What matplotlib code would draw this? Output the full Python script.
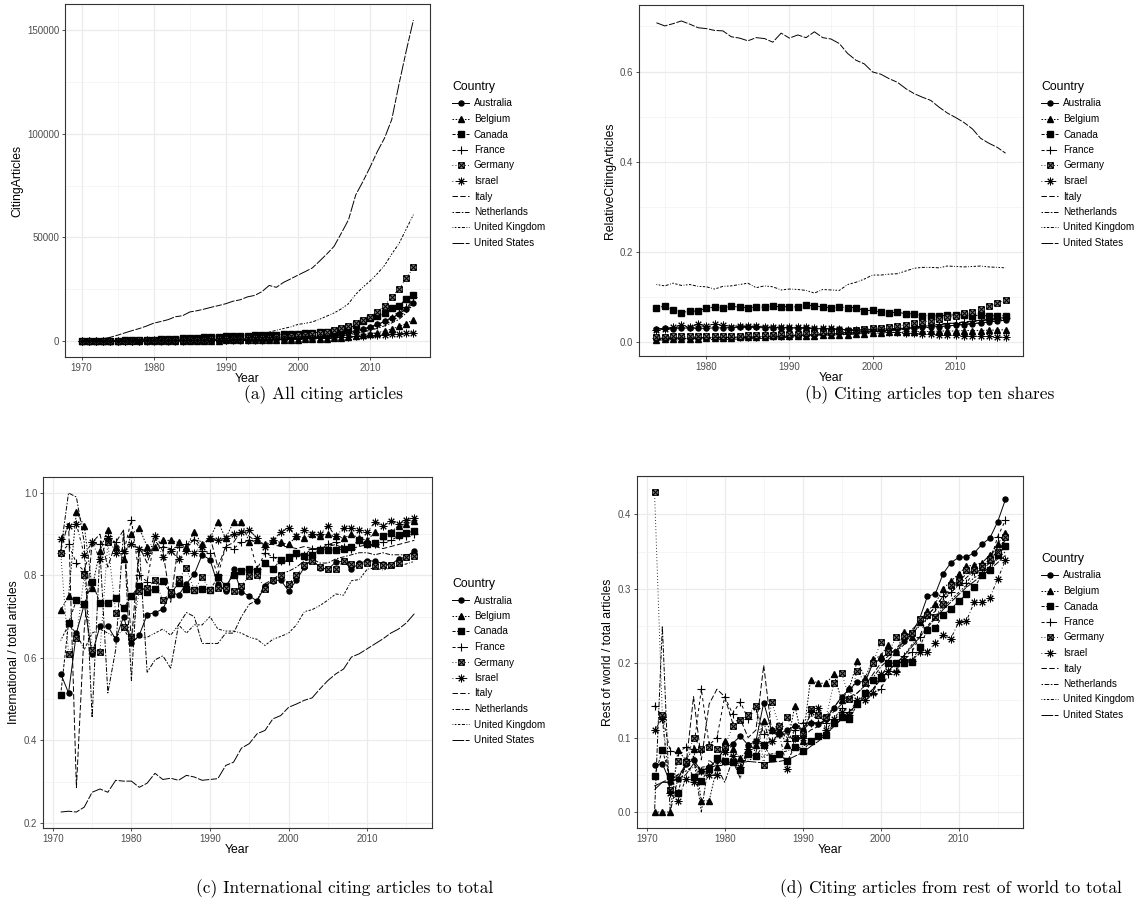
import matplotlib
matplotlib.use("Agg")
import matplotlib.pyplot as plt
from matplotlib.lines import Line2D
from matplotlib.path import Path

countries = ["Australia", "Belgium", "Canada", "France", "Germany", "Israel",
             "Italy", "Netherlands", "United Kingdom", "United States"]

# ---------- (a) citing articles, 1970-2016 ----------
years_a = list(range(1970, 2017))
a_australia = [10, 20, 40, 60, 90, 120, 170, 220, 260, 320,
               370, 410, 460, 520, 560, 640, 680, 720, 770, 820,
               870, 960, 1000, 1050, 1100, 1200, 1300, 1350, 1450, 1600,
               1800, 1950, 2100, 2400, 2700, 3100, 3600, 4200, 5000, 5900,
               6800, 8000, 9400, 11000, 13000, 15500, 18500]
a_belgium = [3, 6, 10, 15, 20, 28, 36, 45, 55, 65,
             80, 90, 100, 115, 130, 145, 160, 175, 195, 215,
             240, 265, 290, 320, 350, 390, 430, 480, 540, 610,
             700, 790, 880, 1000, 1150, 1300, 1550, 1850, 2250, 2700,
             3300, 4000, 4800, 5800, 7000, 8400, 10300]
a_canada = [20, 40, 70, 110, 160, 220, 280, 350, 430, 530,
            650, 750, 900, 1050, 1250, 1500, 1600, 1750, 1900, 2100,
            2300, 2400, 2500, 2600, 2700, 2800, 2900, 3000, 3150, 3300,
            3500, 3700, 3900, 4200, 4500, 5000, 5500, 6200, 7600, 9500,
            11000, 12000, 13300, 15700, 16800, 20500, 22200]
a_france = [5, 10, 15, 25, 30, 45, 60, 75, 90, 110,
            130, 150, 170, 190, 210, 240, 270, 300, 330, 360,
            400, 450, 500, 560, 620, 700, 780, 870, 980, 1100,
            1300, 1450, 1650, 1900, 2200, 2600, 3100, 3700, 4500, 5400,
            6500, 7800, 9300, 11200, 13500, 16500, 21000]
a_germany = [10, 20, 35, 55, 80, 110, 150, 190, 230, 270,
             320, 360, 400, 450, 500, 560, 620, 680, 750, 820,
             900, 980, 1100, 1200, 1350, 1500, 1650, 1850, 2100, 2400,
             2800, 3100, 3400, 3900, 4500, 5300, 6200, 7200, 8500, 10000,
             11500, 14100, 17000, 21400, 25000, 30300, 35500]
a_israel = [5, 10, 20, 35, 60, 90, 130, 170, 220, 280,
            380, 400, 430, 460, 500, 530, 560, 580, 620, 650,
            680, 720, 750, 780, 820, 860, 900, 950, 1000, 1080,
            1150, 1250, 1350, 1450, 1550, 1700, 1900, 2100, 2300, 2500,
            2700, 2900, 3100, 3300, 3500, 3700, 4000]
a_italy = [3, 6, 10, 15, 20, 28, 36, 45, 55, 65,
           75, 90, 105, 120, 140, 160, 180, 200, 230, 260,
           300, 340, 390, 440, 500, 570, 650, 750, 860, 1000,
           1150, 1350, 1550, 1800, 2100, 2450, 2900, 3400, 4100, 4900,
           5900, 7100, 8600, 10400, 12700, 15800, 20000]
a_netherlands = [5, 10, 18, 28, 40, 55, 70, 85, 100, 115,
                 130, 145, 160, 180, 200, 220, 245, 270, 300, 330,
                 360, 400, 440, 490, 540, 600, 670, 750, 840, 950,
                 1100, 1250, 1400, 1600, 1850, 2150, 2550, 3000, 3600, 4300,
                 5100, 6100, 7300, 8700, 10400, 13500, 18000]
a_uk = [30, 60, 100, 160, 250, 380, 520, 700, 850, 1000,
        1150, 1300, 1450, 1650, 1800, 2000, 2100, 2250, 2400, 2450,
        2600, 2700, 2850, 2950, 3300, 3600, 4200, 5200, 6000, 6800,
        8000, 8500, 9200, 10500, 12000, 13500, 15500, 18000, 22500, 26000,
        29000, 32500, 36500, 42000, 47000, 54000, 61000]
a_us = [200, 400, 700, 1100, 1800, 2800, 3900, 5000, 6000, 7200,
        8600, 9400, 10300, 11700, 12200, 14000, 14600, 15400, 16300, 17100,
        18000, 19200, 19900, 21300, 22000, 23800, 26800, 25900, 28300, 30000,
        31800, 33500, 35300, 38600, 42000, 45700, 52000, 58500, 70500, 77000,
        84000, 91500, 98000, 107000, 124000, 140000, 155000]

# ---------- (b) shares, 1974-2016 ----------
years_b = list(range(1974, 2017))
b_australia = [0.030, 0.031, 0.030, 0.032, 0.031, 0.031,
               0.031, 0.032, 0.032, 0.032, 0.033, 0.033, 0.033, 0.032, 0.032, 0.032,
               0.032, 0.031, 0.031, 0.030, 0.030, 0.029, 0.029, 0.028, 0.028, 0.028,
               0.029, 0.029, 0.030, 0.031, 0.031, 0.032, 0.033, 0.034, 0.035, 0.036,
               0.038, 0.039, 0.041, 0.043, 0.045, 0.047, 0.049]
b_belgium = [0.006, 0.007, 0.007, 0.008, 0.008, 0.008,
             0.009, 0.009, 0.010, 0.010, 0.011, 0.011, 0.012, 0.012, 0.013, 0.013,
             0.014, 0.014, 0.015, 0.015, 0.016, 0.016, 0.017, 0.017, 0.018, 0.019,
             0.020, 0.021, 0.022, 0.022, 0.023, 0.023, 0.024, 0.024, 0.025, 0.025,
             0.025, 0.026, 0.026, 0.026, 0.027, 0.027, 0.028]
b_canada = [0.077, 0.080, 0.072, 0.066, 0.069, 0.069,
            0.076, 0.078, 0.077, 0.080, 0.078, 0.077, 0.078, 0.078, 0.080, 0.079,
            0.079, 0.078, 0.082, 0.081, 0.078, 0.077, 0.078, 0.077, 0.077, 0.070,
            0.071, 0.067, 0.065, 0.067, 0.063, 0.063, 0.059, 0.059, 0.058, 0.060,
            0.061, 0.060, 0.059, 0.060, 0.058, 0.059, 0.059]
b_france = [0.010, 0.010, 0.010, 0.010, 0.010, 0.010,
            0.011, 0.011, 0.011, 0.011, 0.011, 0.012, 0.012, 0.013, 0.013, 0.014,
            0.015, 0.016, 0.017, 0.018, 0.019, 0.020, 0.021, 0.022, 0.023, 0.024,
            0.026, 0.027, 0.028, 0.030, 0.032, 0.034, 0.036, 0.038, 0.040, 0.042,
            0.043, 0.045, 0.047, 0.049, 0.050, 0.052, 0.054]
b_germany = [0.012, 0.012, 0.013, 0.013, 0.013, 0.013,
             0.013, 0.013, 0.013, 0.014, 0.015, 0.016, 0.016, 0.017, 0.017, 0.018,
             0.018, 0.019, 0.021, 0.021, 0.022, 0.023, 0.024, 0.025, 0.027, 0.029,
             0.031, 0.032, 0.034, 0.036, 0.039, 0.042, 0.045, 0.048, 0.051, 0.055,
             0.059, 0.064, 0.068, 0.074, 0.080, 0.086, 0.093]
b_israel = [0.028, 0.030, 0.033, 0.038, 0.033, 0.040,
            0.036, 0.041, 0.038, 0.035, 0.037, 0.036, 0.036, 0.035, 0.034, 0.034,
            0.034, 0.033, 0.034, 0.032, 0.031, 0.031, 0.029, 0.028, 0.027, 0.026,
            0.025, 0.024, 0.023, 0.022, 0.021, 0.020, 0.019, 0.018, 0.017, 0.016,
            0.016, 0.015, 0.014, 0.013, 0.013, 0.012, 0.011]
b_italy = [0.005, 0.005, 0.005, 0.005, 0.005, 0.005,
           0.006, 0.006, 0.006, 0.007, 0.007, 0.008, 0.008, 0.009, 0.009, 0.010,
           0.011, 0.012, 0.013, 0.014, 0.015, 0.016, 0.017, 0.018, 0.019, 0.021,
           0.023, 0.025, 0.027, 0.029, 0.031, 0.033, 0.035, 0.037, 0.039, 0.041,
           0.043, 0.045, 0.047, 0.049, 0.051, 0.053, 0.055]
b_netherlands = [0.009, 0.009, 0.009, 0.009, 0.009, 0.010,
                 0.010, 0.010, 0.011, 0.011, 0.012, 0.012, 0.013, 0.013, 0.014, 0.014,
                 0.015, 0.016, 0.016, 0.017, 0.018, 0.019, 0.020, 0.020, 0.021, 0.022,
                 0.024, 0.025, 0.026, 0.027, 0.029, 0.030, 0.032, 0.033, 0.035, 0.036,
                 0.038, 0.040, 0.042, 0.043, 0.045, 0.047, 0.049]
b_uk = [0.128, 0.125, 0.131, 0.126, 0.128, 0.124,
        0.123, 0.118, 0.124, 0.125, 0.128, 0.131, 0.121, 0.125, 0.123, 0.116,
        0.118, 0.117, 0.115, 0.109, 0.117, 0.116, 0.115, 0.128, 0.133, 0.140,
        0.149, 0.149, 0.151, 0.152, 0.158, 0.164, 0.166, 0.166, 0.165, 0.169,
        0.168, 0.167, 0.168, 0.169, 0.167, 0.166, 0.165]
b_us = [0.708, 0.701, 0.706, 0.712, 0.705, 0.697,
        0.695, 0.691, 0.690, 0.677, 0.674, 0.668, 0.675, 0.673, 0.665, 0.685,
        0.674, 0.681, 0.675, 0.688, 0.675, 0.672, 0.662, 0.640, 0.625, 0.617,
        0.599, 0.594, 0.584, 0.576, 0.562, 0.551, 0.543, 0.536, 0.521, 0.508,
        0.498, 0.487, 0.473, 0.452, 0.441, 0.432, 0.419]

# ---------- (c) international / total, 1971-2016 ----------
years_cd = list(range(1971, 2017))
c_australia = [0.562, 0.515, 0.66, 0.73, 0.61, 0.677, 0.677, 0.645, 0.70,
               0.635, 0.655, 0.705, 0.71, 0.718, 0.76, 0.752, 0.78, 0.803, 0.85,
               0.838, 0.778, 0.762, 0.815, 0.76, 0.75, 0.738, 0.775, 0.787, 0.789,
               0.762, 0.788, 0.82, 0.84, 0.818, 0.815, 0.832, 0.835, 0.815, 0.83,
               0.835, 0.835, 0.828, 0.826, 0.84, 0.845, 0.86]
c_belgium = [0.715, 0.75, 0.955, 0.92, 0.77, 0.86, 0.91, 0.87, 0.84,
             0.90, 0.915, 0.87, 0.87, 0.885, 0.885, 0.88, 0.87, 0.905, 0.875,
             0.89, 0.93, 0.89, 0.93, 0.93, 0.88, 0.885, 0.875, 0.885, 0.88,
             0.875, 0.895, 0.89, 0.90, 0.895, 0.90, 0.895, 0.89, 0.90, 0.89,
             0.885, 0.905, 0.895, 0.905, 0.92, 0.925, 0.932]
c_canada = [0.51, 0.685, 0.74, 0.73, 0.785, 0.732, 0.733, 0.745, 0.72,
            0.75, 0.775, 0.76, 0.768, 0.787, 0.755, 0.782, 0.768, 0.765, 0.768,
            0.765, 0.795, 0.775, 0.80, 0.81, 0.815, 0.81, 0.83, 0.815, 0.838,
            0.845, 0.855, 0.848, 0.85, 0.862, 0.862, 0.862, 0.863, 0.868, 0.885,
            0.875, 0.878, 0.895, 0.903, 0.898, 0.903, 0.908]
c_france = [0.855, 0.875, 0.83, 0.81, 0.88, 0.875, 0.895, 0.88, 0.855,
            0.935, 0.80, 0.785, 0.895, 0.87, 0.865, 0.87, 0.875, 0.885, 0.86,
            0.855, 0.80, 0.87, 0.865, 0.88, 0.885, 0.815, 0.855, 0.845, 0.835,
            0.835, 0.85, 0.85, 0.865, 0.865, 0.875, 0.88, 0.87, 0.865, 0.88,
            0.875, 0.875, 0.88, 0.885, 0.895, 0.895, 0.90]
c_germany = [0.855, 0.61, 0.648, 0.80, 0.62, 0.615, 0.88, 0.71, 0.675,
             0.65, 0.762, 0.77, 0.788, 0.74, 0.76, 0.792, 0.817, 0.765, 0.795,
             0.765, 0.77, 0.77, 0.762, 0.775, 0.798, 0.80, 0.768, 0.79, 0.80,
             0.78, 0.80, 0.825, 0.835, 0.82, 0.815, 0.815, 0.835, 0.828, 0.825,
             0.83, 0.822, 0.825, 0.825, 0.83, 0.845, 0.848]
c_israel = [0.888, 0.92, 0.925, 0.85, 0.88, 0.84, 0.89, 0.855, 0.86,
            0.875, 0.865, 0.855, 0.895, 0.845, 0.86, 0.84, 0.86, 0.855, 0.87,
            0.89, 0.885, 0.89, 0.90, 0.905, 0.91, 0.89, 0.87, 0.885, 0.905,
            0.915, 0.895, 0.91, 0.90, 0.90, 0.92, 0.895, 0.915, 0.915, 0.91,
            0.905, 0.93, 0.92, 0.932, 0.925, 0.935, 0.94]
c_italy = [0.86, 0.93, 0.285, 0.67, 0.88, 0.90, 0.82, 0.88, 0.91,
           0.64, 0.87, 0.83, 0.885, 0.86, 0.735, 0.88, 0.865, 0.89, 0.87,
           0.895, 0.82, 0.87, 0.88, 0.91, 0.895, 0.88, 0.875, 0.875, 0.87,
           0.87, 0.865, 0.87, 0.865, 0.865, 0.87, 0.875, 0.865, 0.865, 0.87,
           0.875, 0.87, 0.865, 0.87, 0.875, 0.88, 0.885]
c_netherlands = [0.86, 1.0, 0.99, 0.88, 0.455, 0.86, 0.515, 0.62, 0.91,
                 0.545, 0.87, 0.565, 0.595, 0.605, 0.575, 0.68, 0.71, 0.70, 0.635,
                 0.635, 0.635, 0.66, 0.66, 0.70, 0.73, 0.74, 0.78, 0.79, 0.805,
                 0.81, 0.82, 0.835, 0.84, 0.83, 0.83, 0.84, 0.845, 0.85, 0.855,
                 0.855, 0.85, 0.855, 0.85, 0.85, 0.85, 0.855]
c_uk = [0.642, 0.68, 0.66, 0.62, 0.66, 0.67, 0.66, 0.65, 0.67,
        0.64, 0.65, 0.65, 0.66, 0.67, 0.655, 0.68, 0.66, 0.68, 0.68,
        0.70, 0.67, 0.665, 0.665, 0.66, 0.65, 0.645, 0.63, 0.645, 0.652,
        0.66, 0.68, 0.712, 0.717, 0.727, 0.74, 0.755, 0.752, 0.787, 0.79,
        0.815, 0.818, 0.813, 0.818, 0.823, 0.828, 0.834]
c_us = [0.226, 0.228, 0.226, 0.238, 0.274, 0.282, 0.274, 0.303, 0.301,
        0.301, 0.286, 0.296, 0.320, 0.305, 0.308, 0.303, 0.315, 0.311, 0.303,
        0.305, 0.307, 0.339, 0.347, 0.381, 0.392, 0.416, 0.424, 0.452, 0.460,
        0.480, 0.488, 0.497, 0.503, 0.525, 0.545, 0.561, 0.573, 0.602, 0.610,
        0.622, 0.634, 0.646, 0.660, 0.670, 0.685, 0.707]

# ---------- (d) rest of world / total, 1971-2016 ----------
d_australia = [0.063, 0.065, 0.04, 0.045, 0.065, 0.07, 0.055, 0.06, 0.07,
               0.085, 0.092, 0.102, 0.09, 0.095, 0.147, 0.11, 0.105, 0.11, 0.115,
               0.11, 0.12, 0.118, 0.125, 0.14, 0.155, 0.165, 0.175, 0.175, 0.20,
               0.205, 0.215, 0.215, 0.23, 0.24, 0.26, 0.29, 0.293, 0.32, 0.335,
               0.342, 0.343, 0.348, 0.36, 0.368, 0.39, 0.42]
d_belgium = [0.0, 0.0, 0.0, 0.083, 0.07, 0.085, 0.015, 0.015, 0.06,
             0.095, 0.085, 0.072, 0.085, 0.09, 0.122, 0.11, 0.11, 0.09, 0.143,
             0.095, 0.178, 0.173, 0.173, 0.185, 0.15, 0.167, 0.203, 0.18, 0.205,
             0.21, 0.225, 0.215, 0.242, 0.235, 0.255, 0.27, 0.28, 0.30, 0.31,
             0.32, 0.33, 0.332, 0.335, 0.345, 0.36, 0.375]
d_canada = [0.048, 0.083, 0.048, 0.025, 0.067, 0.047, 0.042, 0.058, 0.072,
            0.068, 0.067, 0.057, 0.078, 0.075, 0.09, 0.073, 0.078, 0.068, 0.088,
            0.082, 0.095, 0.102, 0.103, 0.12, 0.127, 0.125, 0.145, 0.16, 0.178,
            0.18, 0.20, 0.20, 0.20, 0.202, 0.222, 0.245, 0.247, 0.265, 0.273,
            0.283, 0.293, 0.302, 0.318, 0.325, 0.345, 0.357]
d_france = [0.143, 0.128, 0.082, 0.08, 0.087, 0.085, 0.165, 0.09, 0.10,
            0.155, 0.132, 0.148, 0.125, 0.14, 0.105, 0.11, 0.115, 0.095, 0.11,
            0.12, 0.12, 0.12, 0.12, 0.125, 0.14, 0.135, 0.15, 0.15, 0.158,
            0.165, 0.185, 0.19, 0.21, 0.215, 0.235, 0.265, 0.275, 0.29, 0.295,
            0.305, 0.308, 0.322, 0.325, 0.335, 0.37, 0.392]
d_germany = [0.43, 0.13, 0.03, 0.068, 0.067, 0.10, 0.085, 0.088, 0.085,
             0.088, 0.115, 0.123, 0.13, 0.143, 0.063, 0.148, 0.115, 0.128, 0.10,
             0.105, 0.138, 0.13, 0.128, 0.173, 0.187, 0.152, 0.19, 0.173, 0.20,
             0.228, 0.215, 0.235, 0.236, 0.24, 0.26, 0.265, 0.262, 0.28, 0.305,
             0.31, 0.325, 0.325, 0.33, 0.34, 0.35, 0.37]
d_israel = [0.11, 0.125, 0.025, 0.015, 0.045, 0.04, 0.055, 0.05, 0.05,
            0.08, 0.075, 0.06, 0.085, 0.095, 0.09, 0.095, 0.105, 0.058, 0.1,
            0.1, 0.135, 0.14, 0.11, 0.125, 0.135, 0.13, 0.15, 0.15, 0.16,
            0.185, 0.19, 0.188, 0.205, 0.203, 0.215, 0.215, 0.227, 0.238, 0.233,
            0.255, 0.257, 0.282, 0.282, 0.288, 0.313, 0.338]
d_italy = [0.035, 0.04, 0.04, 0.05, 0.06, 0.155, 0.07, 0.145, 0.165,
           0.155, 0.12, 0.125, 0.10, 0.11, 0.197, 0.11, 0.105, 0.105, 0.095,
           0.10, 0.11, 0.115, 0.125, 0.135, 0.145, 0.155, 0.16, 0.17, 0.185,
           0.2, 0.21, 0.22, 0.23, 0.245, 0.255, 0.265, 0.275, 0.29, 0.3,
           0.31, 0.32, 0.325, 0.335, 0.345, 0.355, 0.365]
d_netherlands = [0.0, 0.25, 0.0, 0.045, 0.06, 0.075, 0.0, 0.07, 0.06,
                 0.04, 0.07, 0.045, 0.095, 0.08, 0.12, 0.09, 0.11, 0.1, 0.12,
                 0.11, 0.13, 0.125, 0.13, 0.14, 0.155, 0.15, 0.16, 0.17, 0.18,
                 0.195, 0.205, 0.215, 0.225, 0.24, 0.25, 0.26, 0.27, 0.285, 0.295,
                 0.305, 0.315, 0.325, 0.33, 0.34, 0.35, 0.365]
d_uk = [0.035, 0.04, 0.045, 0.05, 0.055, 0.06, 0.06, 0.062, 0.065,
        0.065, 0.067, 0.068, 0.07, 0.072, 0.075, 0.078, 0.08, 0.082, 0.085,
        0.088, 0.095, 0.1, 0.105, 0.115, 0.125, 0.135, 0.145, 0.155, 0.165,
        0.18, 0.19, 0.2, 0.21, 0.225, 0.235, 0.25, 0.262, 0.275, 0.285,
        0.295, 0.305, 0.315, 0.32, 0.33, 0.34, 0.35]
d_us = [0.03, 0.04, 0.04, 0.045, 0.05, 0.065, 0.055, 0.06, 0.062,
        0.063, 0.065, 0.066, 0.068, 0.067, 0.066, 0.067, 0.068, 0.07, 0.075,
        0.08, 0.088, 0.095, 0.105, 0.115, 0.125, 0.135, 0.145, 0.155, 0.165,
        0.178, 0.19, 0.2, 0.21, 0.222, 0.235, 0.248, 0.26, 0.272, 0.282,
        0.292, 0.302, 0.31, 0.318, 0.326, 0.335, 0.345]

plt.rcParams['font.family'] = ['Liberation Sans', 'DejaVu Sans']

# ggplot-like linetypes (hex dash codes)
linetypes = ["solid", "22", "42", "44", "13", "1343", "73", "2262", "12223242", "F282"]


def dash(code):
    if code == "solid":
        return "solid"
    return (0, [int(c, 16) * 0.8 for c in code])


box_x = Path([(-1, -1), (1, -1), (1, 1), (-1, 1), (-1, -1),
              (-1, -1), (1, 1), (-1, 1), (1, -1)],
             [Path.MOVETO, Path.LINETO, Path.LINETO, Path.LINETO, Path.CLOSEPOLY,
              Path.MOVETO, Path.LINETO, Path.MOVETO, Path.LINETO])
marker_style = [
    dict(marker="o", ms=3.6, mfc="black", mec="black"),
    dict(marker="^", ms=4.2, mfc="black", mec="black"),
    dict(marker="s", ms=4.0, mfc="black", mec="black"),
    dict(marker="+", ms=6.0, mec="black", mew=0.8),
    dict(marker=box_x, ms=4.0, mfc="#aaaaaa", mec="black", mew=0.8),
    dict(marker=(8, 2, 0), ms=5.5, mec="black", mew=0.7),
    dict(marker="None"), dict(marker="None"), dict(marker="None"), dict(marker="None"),
]

W, H = 1136, 907
fig = plt.figure(figsize=(W / 100, H / 100), dpi=100)


def add_axes(left, top, right, bottom):
    return fig.add_axes([left / W, 1 - bottom / H, (right - left) / W, (bottom - top) / H])


def draw_panel(ax, years, series, ylabel, xmajor, xminor, ymajor, yminor, ylabels):
    for i, vals in enumerate(series):
        ax.plot(years, vals, color="black", lw=0.7, linestyle=dash(linetypes[i]),
                **marker_style[i])
    lo = min(min(v) for v in series)
    hi = max(max(v) for v in series)
    pad = (hi - lo) * 0.05
    ax.set_ylim(lo - pad, hi + pad)
    xpad = (years[-1] - years[0]) * 0.05
    ax.set_xlim(years[0] - xpad, years[-1] + xpad)
    ax.set_xticks(xmajor)
    ax.set_xticks(xminor, minor=True)
    ax.set_yticks(ymajor)
    ax.set_yticks(yminor, minor=True)
    ax.set_yticklabels(ylabels)
    ax.grid(which="major", color="#EBEBEB", lw=0.9)
    ax.grid(which="minor", color="#F2F2F2", lw=0.5)
    ax.set_axisbelow(True)
    ax.tick_params(which="major", direction="out", length=2.5, width=0.6, color="#333333",
                   labelsize=7, labelcolor="#4D4D4D", pad=1.5)
    ax.tick_params(which="minor", length=0)
    for s in ax.spines.values():
        s.set_color("#333333")
        s.set_linewidth(0.8)
    ax.set_xlabel("Year", fontsize=8.8, labelpad=0)
    ax.set_ylabel(ylabel, fontsize=8.8, labelpad=3)


handles = [Line2D([], [], color="black", lw=0.7, linestyle=dash(linetypes[i]), **marker_style[i])
           for i in range(len(countries))]


def add_legend(x, y):
    leg = fig.legend(handles, countries, loc="upper left", bbox_to_anchor=(x / W, 1 - y / H),
                     frameon=False, title="Country", title_fontsize=8.8, fontsize=7.2,
                     handlelength=1.7, handletextpad=0.5, labelspacing=0.55,
                     borderpad=0, borderaxespad=0, alignment="left")
    return leg


years_ticks = [1970, 1980, 1990, 2000, 2010]
minor_ticks = [1975, 1985, 1995, 2005, 2015]

ax_a = add_axes(65, 4, 430, 357)
draw_panel(ax_a, years_a,
           [a_australia, a_belgium, a_canada, a_france, a_germany, a_israel,
            a_italy, a_netherlands, a_uk, a_us],
           "CitingArticles", years_ticks, minor_ticks,
           [0, 50000, 100000, 150000], [25000, 75000, 125000],
           ["0", "50000", "100000", "150000"])
add_legend(452, 81)

ax_b = add_axes(639, 5, 1023, 356)
draw_panel(ax_b, years_b,
           [b_australia, b_belgium, b_canada, b_france, b_germany, b_israel,
            b_italy, b_netherlands, b_uk, b_us],
           "RelativeCitingArticles", [1980, 1990, 2000, 2010], [1975, 1985, 1995, 2005, 2015],
           [0.0, 0.2, 0.4, 0.6], [0.1, 0.3, 0.5, 0.7],
           ["0.0", "0.2", "0.4", "0.6"])
add_legend(1041, 81)

ax_c = add_axes(43, 477, 432, 828)
draw_panel(ax_c, years_cd,
           [c_australia, c_belgium, c_canada, c_france, c_germany, c_israel,
            c_italy, c_netherlands, c_uk, c_us],
           "International / total articles", years_ticks, minor_ticks,
           [0.2, 0.4, 0.6, 0.8, 1.0], [0.3, 0.5, 0.7, 0.9],
           ["0.2", "0.4", "0.6", "0.8", "1.0"])
add_legend(452, 578)

ax_d = add_axes(637, 476, 1023, 828)
draw_panel(ax_d, years_cd,
           [d_australia, d_belgium, d_canada, d_france, d_germany, d_israel,
            d_italy, d_netherlands, d_uk, d_us],
           "Rest of world / total articles", years_ticks, minor_ticks,
           [0.0, 0.1, 0.2, 0.3, 0.4], [0.05, 0.15, 0.25, 0.35, 0.45],
           ["0.0", "0.1", "0.2", "0.3", "0.4"])
add_legend(1041, 553)

cap = dict(fontsize=12.5, fontfamily="cmr10", ha="center", va="top")
fig.text(323 / W, 1 - 385 / H, "(a) All citing articles", **cap)
fig.text(930 / W, 1 - 385 / H, "(b) Citing articles top ten shares", **cap)
fig.text(345 / W, 1 - 879 / H, "(c) International citing articles to total", **cap)
fig.text(951 / W, 1 - 879 / H, "(d) Citing articles from rest of world to total", **cap)

fig.savefig("out.png", dpi=100)
